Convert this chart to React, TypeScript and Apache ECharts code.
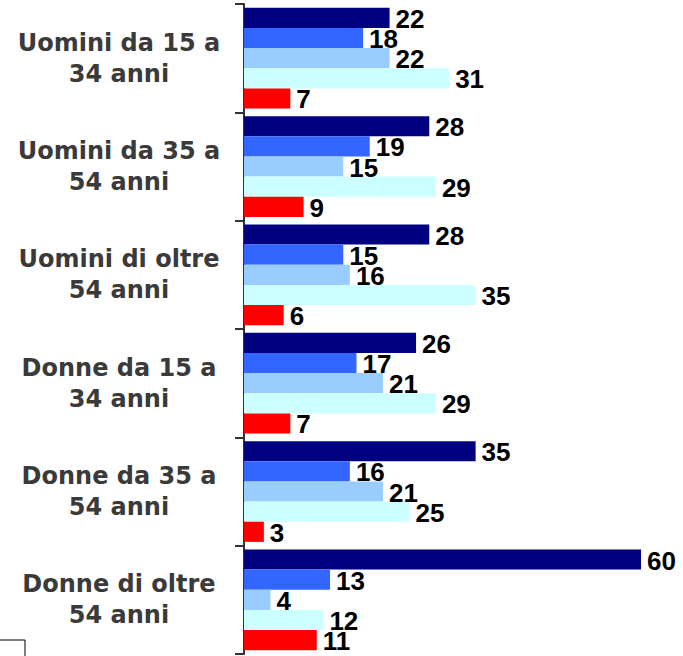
import React, { useEffect, useRef } from "react";
import * as echarts from "echarts";

const categories = [
  "Uomini da 15 a\n34 anni",
  "Uomini da 35 a\n54 anni",
  "Uomini di oltre\n54 anni",
  "Donne da 15 a\n34 anni",
  "Donne da 35 a\n54 anni",
  "Donne di oltre\n54 anni",
];

const seriesNames = ["Serie 1", "Serie 2", "Serie 3", "Serie 4", "Serie 5"];
const seriesColors = ["#000080", "#3366FF", "#99CCFF", "#CCFFFF", "#FF0000"];

const serie1 = [22, 28, 28, 26, 35, 60];
const serie2 = [18, 19, 15, 17, 16, 13];
const serie3 = [22, 15, 16, 21, 21, 4];
const serie4 = [31, 29, 35, 29, 25, 12];
const serie5 = [7, 9, 6, 7, 3, 11];

const seriesValues = [serie1, serie2, serie3, serie4, serie5];

const CAT_FONT = "DejaVu Sans, Liberation Sans, Arial, sans-serif";
const VAL_FONT = "Liberation Sans, Arial, sans-serif";

export default function App() {
  const ref = useRef<HTMLDivElement>(null);
  useEffect(() => {
    if (!ref.current) return;
    const chart = echarts.init(ref.current, null, { renderer: "svg" });
    chart.setOption({
      animation: false,
      backgroundColor: "#ffffff",
      grid: { left: 244, top: 4, bottom: 2, right: 15.5, containLabel: false },
      xAxis: {
        type: "value",
        min: 0,
        max: 64,
        show: false,
      },
      yAxis: {
        type: "category",
        inverse: true,
        data: categories,
        axisLine: { show: true, lineStyle: { color: "#333333", width: 2 } },
        axisTick: { show: true, length: 9, lineStyle: { color: "#333333", width: 2 } },
        axisLabel: {
          align: "center",
          margin: 125,
          color: "#3a3a3a",
          fontFamily: CAT_FONT,
          fontWeight: "bold",
          fontSize: 24,
          lineHeight: 31,
          padding: [0, 0, 4, 0],
        },
      },
      series: seriesValues.map((vals, i) => ({
        name: seriesNames[i],
        type: "bar",
        data: vals,
        barGap: "0%",
        barCategoryGap: "7%",
        itemStyle: { color: seriesColors[i] },
        label: {
          show: true,
          position: "right",
          distance: 6,
          offset: [0, 1],
          color: "#000000",
          fontFamily: VAL_FONT,
          fontWeight: "bold",
          fontSize: 26,
        },
      })),
      graphic: [
        {
          type: "rect",
          shape: { x: -2, y: 640, width: 27, height: 30 },
          style: { fill: "none", stroke: "#000000", lineWidth: 1 },
        },
      ],
    });
    return () => chart.dispose();
  }, []);
  return (
    <div
      ref={ref}
      style={{ position: "fixed", left: 0, top: 0, width: 683, height: 656 }}
    />
  );
}
